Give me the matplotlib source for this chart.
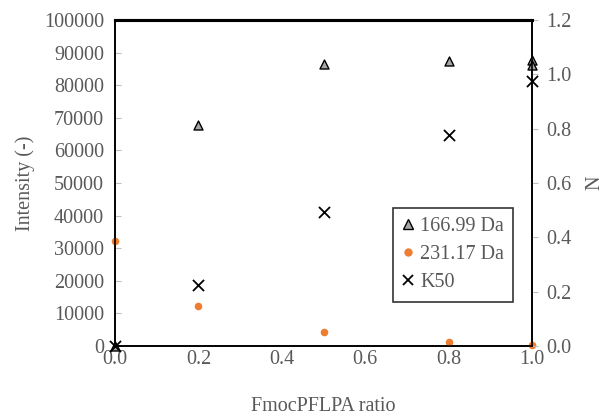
import matplotlib
matplotlib.use("Agg")
import matplotlib.pyplot as plt
from matplotlib.lines import Line2D

plt.rcParams['font.family'] = ['Liberation Serif', 'DejaVu Serif']

ratio_tri = [0.0, 0.2, 0.5, 0.8, 1.0, 1.0]
intensity_16699 = [0, 67800, 86500, 87400, 87700, 86300]
ratio_orange = [0.0, 0.2, 0.5, 0.8, 1.0]
intensity_23117 = [32300, 12200, 4400, 1200, 400]
ratio_k50 = [0.0, 0.2, 0.5, 0.8, 1.0]
n_k50 = [0.0, 0.224, 0.493, 0.777, 0.975]

gray = '#595959'
fs = 14.5
fig = plt.figure(figsize=(6.03, 4.19), dpi=100)
ax = fig.add_axes([115/603, 1-346/419, (532-115)/603, (346-20)/419])
ax2 = ax.twinx()

ax.scatter(ratio_tri, intensity_16699, marker='^', s=42, facecolor='#a6a6a6',
           edgecolor='black', linewidths=1.0, zorder=3, clip_on=False)
ax.scatter(ratio_orange, intensity_23117, marker='o', s=30, color='#ed7d31',
           linewidths=0, zorder=3, clip_on=False)
ax2.scatter(ratio_k50, n_k50, marker='x', s=64, color='black', linewidths=1.3,
            zorder=3, clip_on=False)

ax.set_xlim(0, 1.0)
ax.set_ylim(0, 100000)
ax2.set_ylim(0, 1.2)
ax.set_xticks([0, 0.2, 0.4, 0.6, 0.8, 1.0])
ax.set_xticklabels(['0.0', '0.2', '0.4', '0.6', '0.8', '1.0'])
ax.set_yticks(range(0, 100001, 10000))
ax2.set_yticks([0, 0.2, 0.4, 0.6, 0.8, 1.0, 1.2])
ax2.set_yticklabels(['0.0', '0.2', '0.4', '0.6', '0.8', '1.0', '1.2'])

ax.tick_params(axis='y', direction='in', length=4, color='#bfbfbf', labelsize=fs,
               labelcolor=gray, pad=8)
ax.tick_params(axis='x', length=0, labelsize=fs, labelcolor=gray, pad=3)
ax2.tick_params(axis='y', direction='out', length=4, color='#bfbfbf', labelsize=fs,
                labelcolor=gray, pad=6)

for a in (ax, ax2):
    for s in a.spines.values():
        s.set_color('black')
        s.set_linewidth(1.2)
    a.spines['top'].set_linewidth(2.2)

ax.set_xlabel('FmocPFLPA ratio', fontsize=fs, color=gray, labelpad=20)
ax.set_ylabel('Intensity (-)', fontsize=fs, color=gray, labelpad=6)
ax2.set_ylabel('N', fontsize=fs, color=gray, labelpad=10)

handles = [
    Line2D([], [], marker='^', linestyle='None', markerfacecolor='#a6a6a6',
           markeredgecolor='black', markersize=6.5),
    Line2D([], [], marker='o', linestyle='None', color='#ed7d31', markersize=5),
    Line2D([], [], marker='x', linestyle='None', color='black', markersize=7.5,
           markeredgewidth=1.3),
]
leg = ax2.legend(handles, ['166.99 Da', '231.17 Da', 'K50'], loc='upper left',
                 bbox_to_anchor=((393-115)/417, 1-(208-20)/326), fontsize=fs,
                 frameon=True, fancybox=False, edgecolor='black', handlelength=0.6,
                 handletextpad=0.3, borderpad=0.45, labelspacing=0.45,
                 borderaxespad=0)
leg.get_frame().set_linewidth(1.2)
for t in leg.get_texts():
    t.set_color(gray)

fig.savefig('out.png', dpi=100)
